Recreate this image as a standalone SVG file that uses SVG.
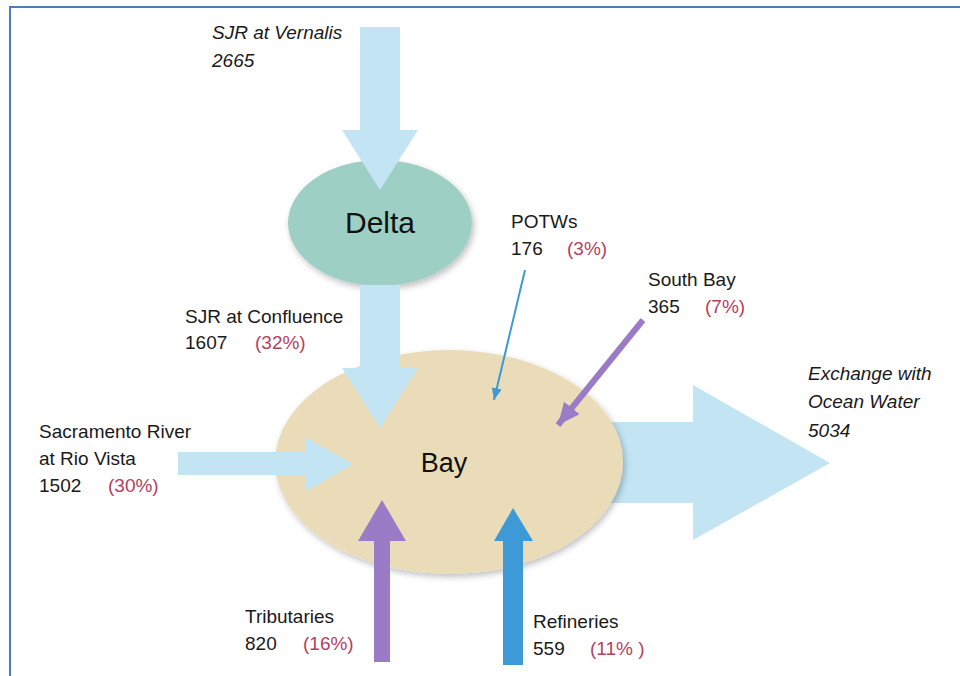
<svg xmlns="http://www.w3.org/2000/svg" width="960" height="676" viewBox="0 0 960 676">
<defs>
<style>
.lbl{font-family:"Liberation Sans",Arial,sans-serif;font-size:19px;fill:#1a1a1a}
.it{font-style:italic}
.pct{fill:#b4415f}
.lb{fill:#c2e4f3}
.node-text{font-family:"Liberation Sans",Arial,sans-serif;fill:#111}
</style>
<filter id="sh" x="-20%" y="-20%" width="140%" height="150%">
<feDropShadow dx="2" dy="3" stdDeviation="3" flood-color="#000" flood-opacity="0.25"/>
</filter>
<marker id="mBlue" markerUnits="userSpaceOnUse" viewBox="0 0 12 10" refX="12" refY="5" markerWidth="12" markerHeight="10" orient="auto">
<path d="M0,0 L12,5 L0,10 z" fill="#3d9ad6"/>
</marker>
<marker id="mPurple" markerUnits="userSpaceOnUse" viewBox="0 0 22 20" refX="22" refY="10" markerWidth="22" markerHeight="20" orient="auto">
<path d="M0,0 L22,10 L0,20 z" fill="#9a7cc6"/>
</marker>
</defs>
<rect x="0" y="0" width="960" height="676" fill="#ffffff"/>
<rect x="10" y="7" width="960" height="690" fill="none" stroke="#4a7ebb" stroke-width="2"/>

<g id="connectors-under">
<polygon id="exchange" class="lb" points="600,422 693,422 693,385 830,463 693,540 693,503 600,503"/>
</g>

<g id="delta">
<ellipse cx="380" cy="223" rx="92" ry="63" fill="#9dcfc5" filter="url(#sh)"/>
<text class="node-text" x="380" y="233" font-size="30" text-anchor="middle">Delta</text>
</g>

<g id="bay">
<ellipse cx="449" cy="462" rx="174" ry="112" fill="#eadcb8" filter="url(#sh)"/>
<text class="node-text" x="444" y="472" font-size="27" text-anchor="middle">Bay</text>
</g>

<g id="connectors">
<polygon id="vernalis" class="lb" points="360,27 400,27 400,130 418,130 380,190 342,130 360,130"/>
<polygon id="delta-to-bay" class="lb" points="360,285 400,285 400,368 418,368 380,428 342,368 360,368"/>
<polygon id="sacramento" class="lb" points="178,452 305,452 305,437 353,464 305,492 305,475 178,475"/>
<polygon id="tributaries" fill="#9a7cc6" points="374,662 374,541 358,541 382,500 406,541 390,541 390,662"/>
<polygon id="refineries" fill="#3d9ad6" points="503,665 503,541 494,541 513,508 533,541 523,541 523,665"/>
<line id="potws" x1="525" y1="270" x2="494" y2="400" stroke="#3d9ad6" stroke-width="2" marker-end="url(#mBlue)"/>
<line id="southbay" x1="643" y1="320" x2="558" y2="425" stroke="#9a7cc6" stroke-width="6" marker-end="url(#mPurple)"/>
</g>

<g id="label-vernalis">
<text class="lbl it" x="212" y="39">SJR at Vernalis</text>
<text class="lbl it" x="212" y="67">2665</text>
</g>
<g id="label-confluence">
<text class="lbl" x="185" y="323">SJR at Confluence</text>
<text class="lbl" x="185" y="349">1607</text>
<text class="lbl pct" x="255" y="349">(32%)</text>
</g>
<g id="label-potws">
<text class="lbl" x="511" y="228">POTWs</text>
<text class="lbl" x="511" y="255">176</text>
<text class="lbl pct" x="567" y="255">(3%)</text>
</g>
<g id="label-southbay">
<text class="lbl" x="648" y="286">South Bay</text>
<text class="lbl" x="648" y="313">365</text>
<text class="lbl pct" x="705" y="313">(7%)</text>
</g>
<g id="label-sacramento">
<text class="lbl" x="39" y="438">Sacramento River</text>
<text class="lbl" x="39" y="465">at Rio Vista</text>
<text class="lbl" x="39" y="492">1502</text>
<text class="lbl pct" x="108" y="492">(30%)</text>
</g>
<g id="label-exchange">
<text class="lbl it" x="808" y="380">Exchange with</text>
<text class="lbl it" x="808" y="408">Ocean Water</text>
<text class="lbl it" x="808" y="437">5034</text>
</g>
<g id="label-tributaries">
<text class="lbl" x="245" y="623">Tributaries</text>
<text class="lbl" x="245" y="650">820</text>
<text class="lbl pct" x="303" y="650">(16%)</text>
</g>
<g id="label-refineries">
<text class="lbl" x="533" y="628">Refineries</text>
<text class="lbl" x="533" y="655">559</text>
<text class="lbl pct" x="590" y="655">(11% )</text>
</g>
</svg>
